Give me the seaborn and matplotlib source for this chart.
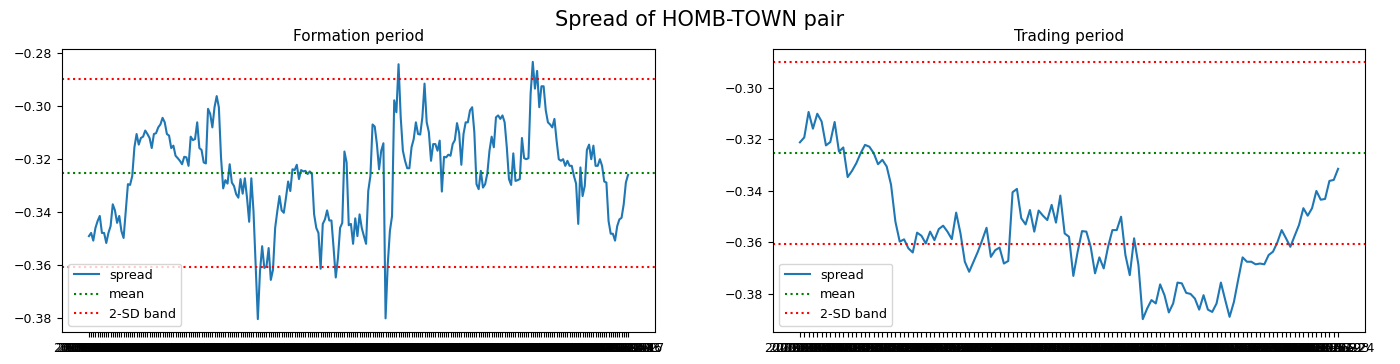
import numpy as np
import pandas as pd
import matplotlib
matplotlib.use("Agg")
import matplotlib.pyplot as plt
import seaborn as sns

# ---------------- FIXED DATA ----------------
formation_spread = [
    -0.3491, -0.3479, -0.3508, -0.3460, -0.3434, -0.3415, -0.3479, -0.3479, -0.3517, -0.3479,
    -0.3453, -0.3371, -0.3394, -0.3441, -0.3415, -0.3472, -0.3498, -0.3397, -0.3295, -0.3298,
    -0.3264, -0.3156, -0.3106, -0.3146, -0.3121, -0.3116, -0.3093, -0.3106, -0.3121, -0.3159,
    -0.3106, -0.3103, -0.3081, -0.3070, -0.3045, -0.3062, -0.3106, -0.3112, -0.3159, -0.3150,
    -0.3188, -0.3197, -0.3207, -0.3220, -0.3192, -0.3194, -0.3226, -0.3116, -0.3129, -0.3125,
    -0.3062, -0.3159, -0.3166, -0.3213, -0.3217, -0.3011, -0.3030, -0.3081, -0.3005, -0.2963,
    -0.3005, -0.3194,
    -0.3311, -0.3280, -0.3293, -0.3220, -0.3289, -0.3302, -0.3333, -0.3346, -0.3276, -0.3331,
    -0.3273, -0.3346, -0.3437, -0.3273, -0.3397, -0.3599, -0.3804, -0.3624, -0.3529, -0.3611,
    -0.3605, -0.3536, -0.3656, -0.3618, -0.3460, -0.3397, -0.3340, -0.3394, -0.3403, -0.3346,
    -0.3285, -0.3321, -0.3239, -0.3242, -0.3222, -0.3276, -0.3242, -0.3247, -0.3245, -0.3257,
    -0.3247, -0.3257, -0.3409, -0.3460, -0.3479, -0.3614, -0.3445, -0.3428, -0.3394, -0.3432,
    -0.3432, -0.3536, -0.3647, -0.3574, -0.3460, -0.3441, -0.3172, -0.3213, -0.3450, -0.3445,
    -0.3520, -0.3424, -0.3491,
    -0.3409, -0.3460, -0.3491, -0.3520, -0.3321, -0.3264, -0.3070, -0.3078, -0.3144, -0.3239,
    -0.3169, -0.3141, -0.3801, -0.3599, -0.3472, -0.3415, -0.2979, -0.3024, -0.2843, -0.3043,
    -0.3169, -0.3207, -0.3235, -0.3235, -0.3156, -0.3125, -0.3062, -0.3106, -0.3108, -0.3043,
    -0.2916, -0.3062, -0.3099, -0.3207, -0.3144, -0.3144, -0.3169, -0.3131, -0.3323, -0.3192,
    -0.3194, -0.3184, -0.3188, -0.3144, -0.3129, -0.3065, -0.3103, -0.3222, -0.3106, -0.3062,
    -0.3062, -0.3017, -0.3005, -0.3099, -0.3295, -0.3314, -0.3245, -0.3308, -0.3295, -0.3255,
    -0.3169, -0.3116,
    -0.3156, -0.3043, -0.3036, -0.3049, -0.3036, -0.3062, -0.3156, -0.3276, -0.3298, -0.3179,
    -0.3283, -0.3280, -0.3276, -0.3121, -0.3197, -0.3201, -0.3197, -0.2954, -0.2834, -0.2935,
    -0.2868, -0.3005, -0.2926, -0.2926, -0.3017, -0.3062, -0.3070, -0.3081, -0.3049, -0.3131,
    -0.3201, -0.3207, -0.3201, -0.3226, -0.3207, -0.3226, -0.3226, -0.3264, -0.3293, -0.3445,
    -0.3232, -0.3340, -0.3302, -0.3166, -0.3146, -0.3201, -0.3150, -0.3226, -0.3226, -0.3201,
    -0.3226, -0.3285, -0.3289, -0.3434, -0.3482, -0.3482, -0.3508, -0.3453, -0.3428, -0.3422,
    -0.3371, -0.3289, -0.3260,
]

trading_spread = [
    -0.3211, -0.3192, -0.3093, -0.3158, -0.3100, -0.3130, -0.3223, -0.3210, -0.3132, -0.3247,
    -0.3231, -0.3346, -0.3322, -0.3292, -0.3253, -0.3221, -0.3228, -0.3253, -0.3296, -0.3279,
    -0.3305, -0.3376, -0.3519, -0.3597, -0.3588, -0.3623, -0.3639, -0.3562, -0.3574, -0.3604,
    -0.3558, -0.3591, -0.3548, -0.3535, -0.3558, -0.3587, -0.3484, -0.3565, -0.3675, -0.3714,
    -0.3675, -0.3636, -0.3591, -0.3543, -0.3656, -0.3630, -0.3620, -0.3682, -0.3672, -0.3405,
    -0.3392, -0.3506, -0.3530, -0.3474, -0.3558, -0.3476, -0.3496, -0.3513, -0.3454, -0.3523,
    -0.3418, -0.3565, -0.3578,
    -0.3730, -0.3636, -0.3556, -0.3558, -0.3617, -0.3720, -0.3658, -0.3701, -0.3617, -0.3552,
    -0.3552, -0.3500, -0.3649, -0.3727, -0.3584, -0.3688, -0.3898, -0.3857, -0.3824, -0.3837,
    -0.3763, -0.3805, -0.3872, -0.3837, -0.3756, -0.3759, -0.3796, -0.3800, -0.3818, -0.3861,
    -0.3805, -0.3861, -0.3870, -0.3837, -0.3756, -0.3824, -0.3889, -0.3831, -0.3743, -0.3658,
    -0.3675, -0.3675, -0.3685, -0.3682, -0.3685, -0.3649, -0.3636, -0.3600, -0.3552, -0.3584,
    -0.3617, -0.3574, -0.3532, -0.3467, -0.3496, -0.3467, -0.3400, -0.3434, -0.3431, -0.3361,
    -0.3357, -0.3314,
]

# formation-period statistics of the spread
spread_mean = -0.3253
spread_sd = 0.01773

# date labels (trading days)
formation_dates = list(pd.bdate_range("2019-01-02", periods=len(formation_spread)).strftime("%Y-%m-%d"))
trading_dates = list(pd.bdate_range("2020-01-02", periods=len(trading_spread)).strftime("%Y-%m-%d"))

panels = [
    ("Formation period", formation_dates, formation_spread),
    ("Trading period", trading_dates, trading_spread),
]

# ---------------- PLOT ----------------
W, H = 1400, 364
fig, axes = plt.subplots(1, 2, figsize=(W / 100, H / 100), dpi=100)
# axes boxes in pixels: (left, top, right, bottom)
boxes = [(62, 49, 655, 332), (773, 49, 1365, 332)]

for ax, box, (title, dates, spread) in zip(axes, boxes, panels):
    l, t, r, b = box
    ax.set_position([l / W, 1 - b / H, (r - l) / W, (b - t) / H])
    df = pd.DataFrame({"date": dates, "spread": spread})
    sns.lineplot(data=df, x="date", y="spread", ax=ax, sort=False,
                 color="#1f77b4", linewidth=1.5, label="spread")
    ax.axhline(spread_mean, color="green", linestyle=":", linewidth=1.5, label="mean")
    ax.axhline(spread_mean + 2 * spread_sd, color="red", linestyle=":", linewidth=1.5,
               label="2-SD band")
    ax.axhline(spread_mean - 2 * spread_sd, color="red", linestyle=":", linewidth=1.5)
    ax.set_title(title, fontsize=11)
    ax.set_xlabel("")
    ax.set_ylabel("")
    ax.tick_params(axis="y", labelsize=9)
    ax.tick_params(axis="x", labelsize=9)
    ax.legend(loc="lower left", fontsize=9.2)

fig.suptitle("Spread of HOMB-TOWN pair", fontsize=15, y=0.972)
fig.savefig("out.png", dpi=100)
